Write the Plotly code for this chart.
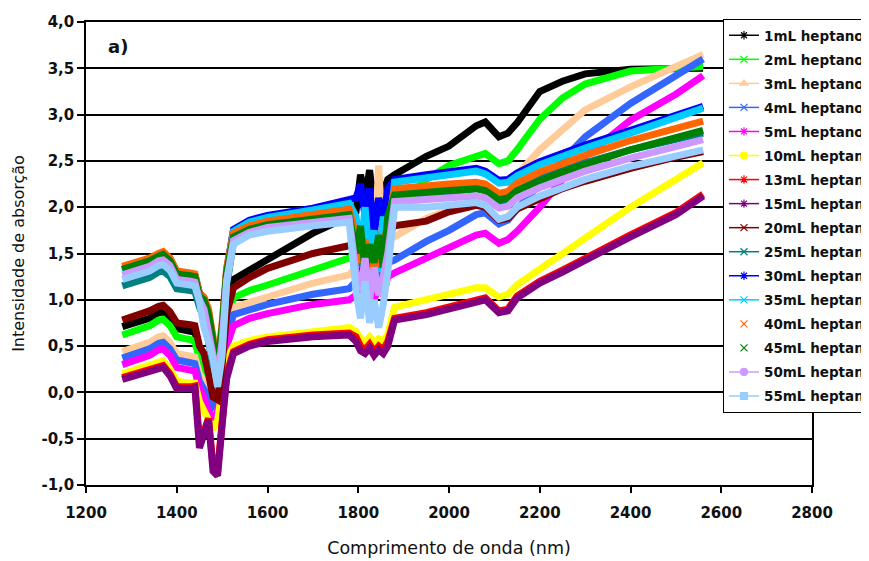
import plotly.graph_objects as go

# wavelength grid (nm)
wl = [1280, 1300, 1340, 1360, 1370, 1385, 1400, 1430, 1440, 1450, 1460, 1470, 1480, 1490, 1500,
      1510, 1525, 1560, 1600, 1700, 1780,
      1795, 1805, 1815, 1825, 1835, 1845, 1855, 1865,
      1880, 1950, 2000, 2060, 2080, 2110, 2130, 2150, 2200, 2250, 2300, 2400, 2500, 2560]

names = ["1mL heptano", "2mL heptano", "3mL heptano", "4mL heptano", "5mL heptano",
         "10mL heptano", "13mL heptano", "15mL heptano", "20mL heptano", "25mL heptano",
         "30mL heptano", "35mL heptano", "40mL heptano", "45mL heptano", "50mL heptano",
         "55mL heptano"]

colors = ["#000000", "#00ff00", "#ffcc99", "#3366ff", "#ff00ff",
          "#ffff00", "#ff0000", "#800080", "#800000", "#008080",
          "#0000ff", "#00ccff", "#ff6600", "#008000", "#cc99ff",
          "#99ccff"]

v1 = [0.71, 0.74, 0.80, 0.86, 0.87, 0.80, 0.69, 0.66, 0.65, 0.45, 0.38, 0.15, -0.05, 0.00, 0.40,
      0.90, 1.22, 1.32, 1.43, 1.72, 1.90,
      1.95, 2.35, 2.10, 2.40, 2.00, 2.30, 2.15, 2.30,
      2.35, 2.55, 2.66, 2.88, 2.92, 2.76, 2.80, 2.91, 3.25, 3.36, 3.44, 3.49, 3.50, 3.50]
v2 = [0.62, 0.65, 0.72, 0.78, 0.79, 0.72, 0.60, 0.57, 0.55, 0.35, 0.25, 0.12, -0.05, 0.00, 0.30,
      0.75, 1.02, 1.10, 1.16, 1.32, 1.45,
      1.50, 1.70, 1.30, 1.80, 1.45, 1.90, 1.60, 1.85,
      1.98, 2.30, 2.45, 2.56, 2.58, 2.47, 2.50, 2.62, 2.95, 3.18, 3.33, 3.47, 3.50, 3.52]
v3 = [0.44, 0.47, 0.54, 0.60, 0.61, 0.54, 0.42, 0.39, 0.38, 0.20, 0.12, 0.00, -0.10, -0.05, 0.25,
      0.65, 0.92, 0.98, 1.03, 1.18, 1.27,
      1.35, 1.60, 1.20, 2.00, 1.50, 2.45, 1.55, 1.65,
      1.68, 1.88, 1.97, 2.06, 2.07, 2.00, 2.15, 2.35, 2.62, 2.84, 3.05, 3.30, 3.52, 3.65]
v4 = [0.37, 0.40, 0.47, 0.53, 0.54, 0.47, 0.35, 0.32, 0.31, 0.12, 0.05, -0.05, -0.15, -0.10, 0.20,
      0.60, 0.84, 0.90, 0.95, 1.06, 1.12,
      1.20, 1.40, 1.10, 1.50, 1.25, 1.35, 1.20, 1.40,
      1.43, 1.63, 1.75, 1.92, 1.94, 1.82, 1.86, 1.98, 2.25, 2.50, 2.76, 3.12, 3.42, 3.60]
v5 = [0.30, 0.33, 0.40, 0.46, 0.47, 0.40, 0.27, 0.24, 0.23, 0.05, -0.05, -0.20, -0.30, -0.20, 0.15,
      0.50, 0.72, 0.80, 0.85, 0.95, 1.00,
      1.05, 1.20, 0.95, 1.30, 1.00, 1.15, 1.05, 1.25,
      1.29, 1.45, 1.56, 1.70, 1.72, 1.61, 1.65, 1.74, 2.00, 2.30, 2.55, 2.94, 3.22, 3.42]
v10 = [0.20, 0.23, 0.29, 0.33, 0.34, 0.25, 0.12, 0.10, 0.10, -0.10, -0.20, -0.30, -0.40, -0.30, 0.05,
       0.35, 0.50, 0.56, 0.60, 0.66, 0.70,
       0.66, 0.58, 0.55, 0.60, 0.54, 0.58, 0.56, 0.62,
       0.92, 1.00, 1.06, 1.13, 1.13, 1.03, 1.06, 1.16, 1.33, 1.50, 1.67, 2.00, 2.30, 2.48]
v13 = [0.16, 0.19, 0.25, 0.29, 0.29, 0.20, 0.06, 0.06, 0.07, -0.50, -0.42, -0.28, -0.80, -0.85, -0.30,
       0.20, 0.44, 0.52, 0.57, 0.62, 0.64,
       0.60, 0.50, 0.46, 0.52, 0.44, 0.50, 0.46, 0.55,
       0.80, 0.86, 0.92, 1.01, 1.02, 0.88, 0.90, 1.04, 1.20, 1.32, 1.45, 1.70, 1.94, 2.14]
v15 = [0.14, 0.17, 0.23, 0.27, 0.27, 0.18, 0.04, 0.04, 0.05, -0.60, -0.45, -0.30, -0.85, -0.90, -0.35,
       0.15, 0.42, 0.50, 0.55, 0.60, 0.62,
       0.55, 0.45, 0.42, 0.48, 0.40, 0.46, 0.42, 0.50,
       0.78, 0.84, 0.90, 0.99, 1.00, 0.86, 0.88, 1.02, 1.18, 1.30, 1.43, 1.68, 1.92, 2.12]
v20 = [0.78, 0.81, 0.88, 0.93, 0.94, 0.87, 0.75, 0.73, 0.72, 0.50, 0.42, 0.20, -0.05, -0.08, 0.30,
       0.85, 1.13, 1.24, 1.34, 1.50, 1.58,
       1.60, 1.30, 1.70, 1.40, 1.75, 1.50, 1.80, 1.70,
       1.80, 1.85, 1.95, 2.02, 2.00, 1.86, 1.88, 1.98, 2.10, 2.20, 2.28, 2.42, 2.54, 2.60]
v25 = [1.15, 1.18, 1.24, 1.30, 1.31, 1.25, 1.12, 1.10, 1.09, 0.92, 0.80, 0.55, 0.30, 0.15, 0.50,
       1.15, 1.62, 1.72, 1.77, 1.84, 1.90,
       1.60, 1.35, 1.70, 1.25, 1.50, 1.30, 1.55, 1.70,
       2.10, 2.14, 2.16, 2.20, 2.18, 2.06, 2.08, 2.18, 2.31, 2.40, 2.48, 2.62, 2.74, 2.80]
v30 = [1.33, 1.36, 1.43, 1.49, 1.51, 1.45, 1.30, 1.28, 1.27, 1.07, 1.02, 0.82, 0.48, 0.28, 0.62,
       1.32, 1.76, 1.86, 1.91, 1.99, 2.07,
       2.10, 2.25, 1.90, 2.20, 1.70, 2.10, 1.85, 2.20,
       2.30, 2.35, 2.38, 2.42, 2.39, 2.29, 2.30, 2.37, 2.49, 2.59, 2.67, 2.83, 3.00, 3.09]
v35 = [1.31, 1.34, 1.40, 1.46, 1.48, 1.42, 1.27, 1.25, 1.24, 1.04, 1.00, 0.80, 0.45, 0.25, 0.60,
       1.30, 1.74, 1.84, 1.89, 1.97, 2.04,
       1.90, 1.50, 2.00, 1.40, 1.75, 1.30, 1.90, 1.60,
       2.27, 2.32, 2.35, 2.39, 2.36, 2.26, 2.27, 2.34, 2.46, 2.56, 2.64, 2.80, 2.97, 3.07]
v40 = [1.36, 1.39, 1.45, 1.50, 1.52, 1.45, 1.31, 1.29, 1.28, 1.07, 1.03, 0.90, 0.55, 0.30, 0.75,
       1.35, 1.72, 1.80, 1.85, 1.92, 1.98,
       1.70, 1.40, 1.65, 1.30, 1.55, 1.35, 1.60, 1.80,
       2.20, 2.24, 2.25, 2.27, 2.25, 2.15, 2.17, 2.26, 2.38, 2.47, 2.56, 2.72, 2.85, 2.93]
v45 = [1.33, 1.36, 1.42, 1.47, 1.49, 1.42, 1.28, 1.26, 1.25, 1.04, 1.00, 0.85, 0.50, 0.25, 0.70,
       1.30, 1.68, 1.76, 1.81, 1.87, 1.92,
       1.50, 1.80, 1.30, 1.60, 1.40, 1.70, 1.35, 1.90,
       2.13, 2.17, 2.18, 2.20, 2.18, 2.08, 2.10, 2.18, 2.29, 2.38, 2.46, 2.62, 2.75, 2.83]
v50 = [1.27, 1.30, 1.36, 1.42, 1.43, 1.37, 1.22, 1.20, 1.19, 1.00, 0.90, 0.65, 0.35, 0.15, 0.55,
       1.20, 1.64, 1.73, 1.78, 1.84, 1.88,
       1.30, 1.10, 1.45, 1.00, 1.35, 1.05, 1.25, 1.50,
       2.06, 2.08, 2.09, 2.12, 2.10, 1.99, 2.01, 2.10, 2.21, 2.31, 2.39, 2.53, 2.66, 2.73]
v55 = [1.22, 1.25, 1.31, 1.37, 1.38, 1.32, 1.18, 1.16, 1.15, 0.98, 0.70, 0.55, 0.35, 0.06, 0.40,
       1.20, 1.60, 1.70, 1.74, 1.80, 1.84,
       1.10, 0.80, 1.20, 0.75, 1.00, 0.70, 0.95, 1.30,
       2.00, 2.00, 2.02, 2.05, 2.02, 1.87, 1.90, 2.00, 2.12, 2.22, 2.30, 2.44, 2.56, 2.62]

series = [v1, v2, v3, v4, v5, v10, v13, v15, v20, v25, v30, v35, v40, v45, v50, v55]

legend_symbols = ["asterisk-open", "x-thin-open", "triangle-up", "x-thin-open", "asterisk-open",
                  "circle", "asterisk-open", "asterisk-open", "x-thin-open", "x-thin-open",
                  "asterisk-open", "x-thin-open", "x-thin-open", "x-thin-open", "circle",
                  "square"]
legend_modes = ["lines+markers"] * 12 + ["markers", "markers"] + ["lines+markers"] * 2

y_ticks = [-1.0, -0.5, 0.0, 0.5, 1.0, 1.5, 2.0, 2.5, 3.0, 3.5, 4.0]
y_tick_text = ["-1,0", "-0,5", "0,0", "0,5", "1,0", "1,5", "2,0", "2,5", "3,0", "3,5", "4,0"]
x_ticks = [1200, 1400, 1600, 1800, 2000, 2200, 2400, 2600, 2800]

FONT = "DejaVu Sans"
BOLD = "<b>%s</b>"

fig = go.Figure()

for name, col, vals in zip(names, colors, series):
    fig.add_trace(go.Scatter(x=wl, y=vals, mode="lines", name=name,
                             line=dict(color=col, width=7),
                             showlegend=False, hoverinfo="skip"))

for i, (name, col) in enumerate(zip(names, colors)):
    fig.add_trace(go.Scatter(x=[None], y=[None], mode=legend_modes[i], name=BOLD % name,
                             legendgroup=f"g{i}",
                             line=dict(color=col, width=1.5),
                             marker=dict(color=col, symbol=legend_symbols[i], size=7,
                                         line=dict(color=col, width=1.2))))

fig.update_layout(
    width=861, height=553,
    margin=dict(l=78, r=57, t=14, b=76, autoexpand=False),
    paper_bgcolor="white", plot_bgcolor="white",
    font=dict(family=FONT, color="#111111", size=14),
    showlegend=True,
    legend=dict(x=0.8774, xanchor="left", y=1.0065, yanchor="top",
                bgcolor="white", bordercolor="black", borderwidth=1,
                font=dict(family=FONT, size=13.5, color="#111111"),
                tracegroupgap=3.5, itemwidth=30, maxheight=520),
    annotations=[dict(text="<b>a)</b>", x=0.044, y=0.948, xref="paper", yref="paper",
                      showarrow=False, font=dict(family=FONT, size=18, color="#111111"),
                      xanchor="center", yanchor="middle")],
)

fig.update_xaxes(range=[1200, 2800], tickvals=x_ticks,
                 ticktext=[BOLD % t for t in x_ticks],
                 showgrid=False, zeroline=False,
                 showline=True, linecolor="black", linewidth=1.5, mirror=True,
                 ticks="outside", ticklen=6, tickcolor="black", tickwidth=1.5,
                 ticklabelstandoff=7,
                 tickfont=dict(family=FONT, size=15, color="#111111"),
                 title=dict(text="Comprimento de onda (nm)", standoff=21,
                            font=dict(family=FONT, size=17.5, color="#111111")))
fig.update_yaxes(range=[-1, 4], tickvals=y_ticks, ticktext=[BOLD % t for t in y_tick_text],
                 showgrid=True, gridcolor="black", gridwidth=1.5, zeroline=False,
                 showline=True, linecolor="black", linewidth=1.5, mirror=True,
                 ticks="outside", ticklen=7, tickcolor="black", tickwidth=1.5,
                 tickfont=dict(family=FONT, size=15, color="#111111"),
                 title=dict(text="Intensidade de absorção", standoff=13,
                            font=dict(family=FONT, size=16, color="#111111")))

fig.write_html("out.html")
